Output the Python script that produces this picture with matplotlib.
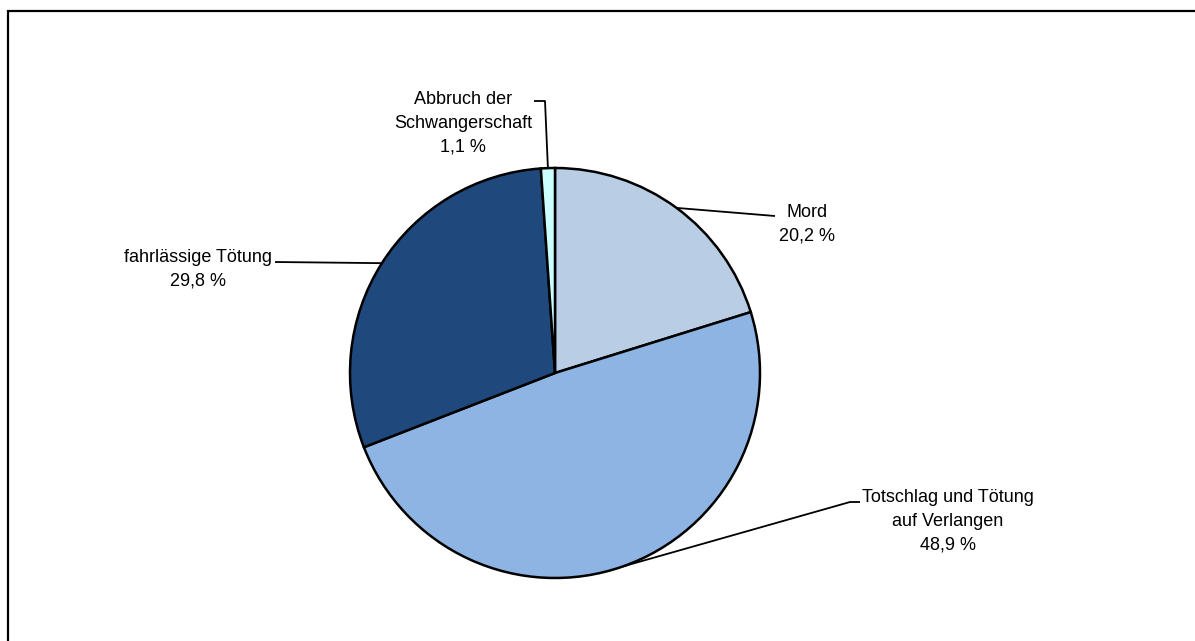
import numpy as np
import matplotlib
matplotlib.use("Agg")
import matplotlib.pyplot as plt
from matplotlib.patches import Rectangle

labels = ["Mord", "Totschlag und Tötung\nauf Verlangen", "fahrlässige Tötung", "Abbruch der\nSchwangerschaft"]
shares = [20.2, 48.9, 29.8, 1.1]
colors = ["#B9CDE5", "#8EB4E3", "#1F497D", "#CCFFFF"]

plt.rcParams["font.family"] = ["Liberation Sans", "DejaVu Sans"]

W, H = 1195, 641
fig = plt.figure(figsize=(W / 100, H / 100), dpi=100)
ax = fig.add_axes([0, 0, 1, 1])

# outer frame, runs off the right and bottom edge
fig.patches.append(Rectangle((8 / W, -0.1), 1.2, 1 - 11 / H + 0.1, transform=fig.transFigure,
                             fill=False, edgecolor="black", linewidth=1.6))

cx, cy, r = 555, H - 373, 205
wedges, _ = ax.pie(shares, colors=colors, startangle=90, counterclock=False,
                   center=(cx, cy), radius=r, frame=True,
                   wedgeprops=dict(edgecolor="black", linewidth=1.8))
ax.set_xlim(0, W)
ax.set_ylim(0, H)
ax.set_aspect("equal")
ax.axis("off")

def edge_point(w):
    mid = np.deg2rad((w.theta1 + w.theta2) / 2)
    return cx + r * np.cos(mid), cy + r * np.sin(mid)

# text anchor (pixels from top-left), side, and leader path (elbow points, then pie edge)
label_pos = [
    (779, 224, "left", [(775, 216)]),
    (862, 521, "left", [(860, 502), (850, 502)]),
    (272, 269, "right", [(275, 262)]),
    (532, 123, "right", [(534, 101), (545, 101)]),
]

for w, lab, val, (tx, ty, ha, path) in zip(wedges, labels, shares, label_pos):
    txt = lab + "\n" + f"{val:.1f} %".replace(".", ",")
    ax.text(tx, H - ty, txt, ha=ha, va="center", multialignment="center",
            fontsize=13, linespacing=1.5)
    ex, ey = edge_point(w)
    xs = [p[0] for p in path] + [ex]
    ys = [H - p[1] for p in path] + [ey]
    ax.plot(xs, ys, color="black", linewidth=1.3, solid_capstyle="butt")

fig.savefig("out.png", dpi=100)
